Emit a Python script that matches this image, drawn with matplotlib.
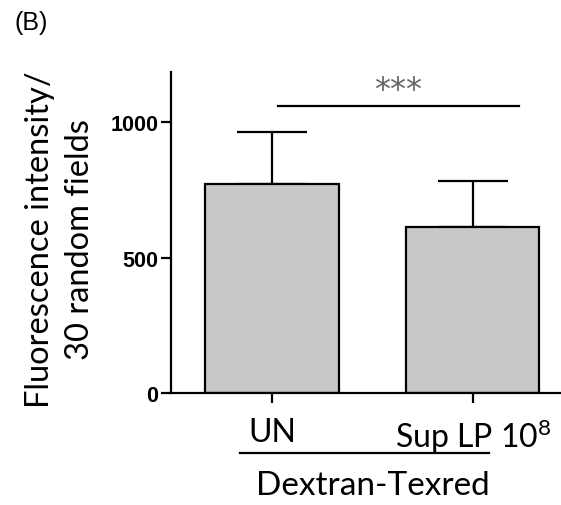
import numpy as np
import matplotlib
matplotlib.use('Agg')
import matplotlib.pyplot as plt
import matplotlib.transforms as mtransforms


######################
groups = ['UN', 'Sup LP 10$^{8}$']
means = [771, 612]
sem_up = [192, 170]
group_label = 'Dextran-Texred'
y_ticks = [0, 500, 1000]
##########################

plt.rcParams['mathtext.default'] = 'regular'
label_font = ['Lato', 'DejaVu Sans']
tick_font = ['Liberation Sans', 'DejaVu Sans']


def main():
    fig = plt.figure(figsize=(5.61, 5.06), dpi=100)
    ax = fig.add_axes([0.305, 0.2213, 0.695, 0.6344])

    x = np.arange(len(groups))
    ax.bar(x, means, width=0.662, color='#c8c8c8', edgecolor='black',
           linewidth=1.6, zorder=2)
    ax.errorbar(x, means, yerr=[np.zeros(len(means)), sem_up], fmt='none',
                ecolor='black', elinewidth=1.6, capsize=25, capthick=1.6,
                zorder=1)

    ax.set_xlim(-0.502, 1.438)
    ax.set_ylim(0, 1185)
    ax.set_yticks(y_ticks)
    ax.set_yticklabels([str(t) for t in y_ticks], family=tick_font,
                       fontweight='bold', fontsize=15.5)
    ax.set_xticks(x)
    ax.set_xticklabels(groups, family=label_font, fontsize=23)

    for s in ['top', 'right']:
        ax.spines[s].set_visible(False)
    for s in ['left', 'bottom']:
        ax.spines[s].set_linewidth(1.6)
    ax.tick_params(axis='y', length=7, width=1.6, pad=2)
    ax.tick_params(axis='x', length=7, width=1.6, pad=10)

    # significance line
    ax.plot([0.03, 1.23], [1059, 1059], color='black', lw=1.6, clip_on=False)
    ax.text(0.627, 1120, '***', ha='center', va='center', fontsize=23,
            color='#666666', family='DejaVu Sans')

    # group bracket under x labels
    trans = mtransforms.blended_transform_factory(ax.transData, ax.transAxes)
    ax.plot([-0.16, 1.08], [-0.187, -0.187], color='black', lw=1.6,
            transform=trans, clip_on=False)
    ax.text(0.5, -0.285, group_label, transform=trans, ha='center',
            va='center', fontsize=24, family=label_font)

    ax.set_ylabel('Fluorescence intensity/\n30 random fields',
                  family=label_font, fontsize=23.5, linespacing=1.4)
    ax.yaxis.set_label_coords(-0.195, 0.48)
    fig.text(0.025, 0.955, '(B)', fontsize=18, family=tick_font, va='center')

    fig.savefig('out.png', dpi=100)


if __name__ == "__main__":
    main()
